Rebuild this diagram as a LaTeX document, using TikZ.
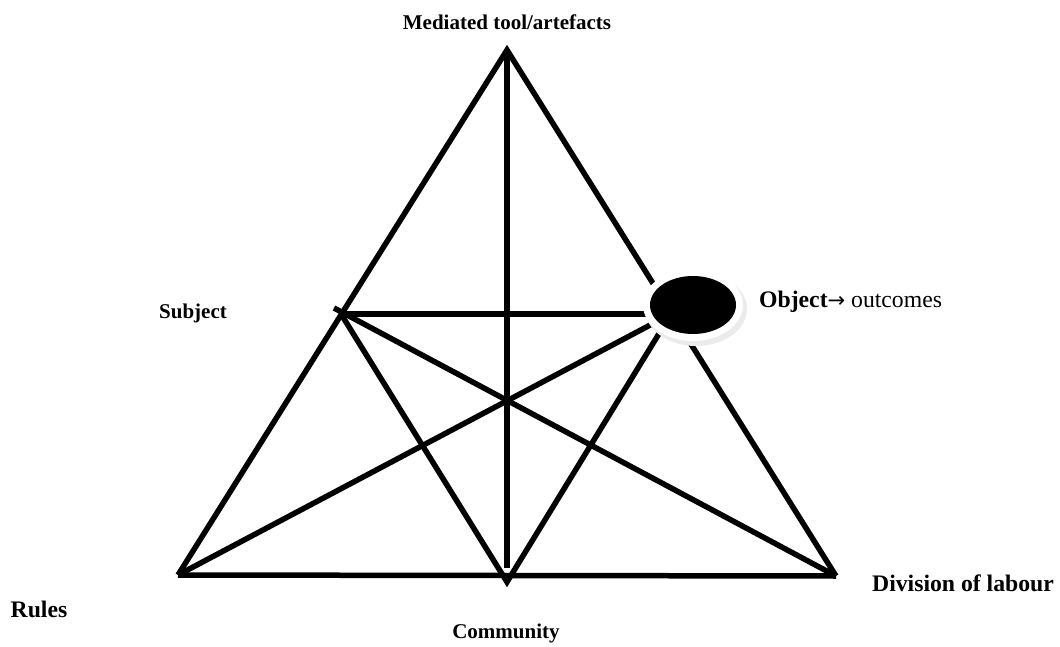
\documentclass[tikz,border=0pt]{standalone}
\usepackage{fontspec}
\setmainfont{Liberation Serif}
\newfontfamily\arrowfont{DejaVu Sans}
\begin{document}
\begin{tikzpicture}[x=1pt,y=-1pt,
  edge/.style={line width=5.5pt,black},
  lbl/.style={font=\fontsize{21}{25}\selectfont\bfseries,inner sep=0pt},
  biglbl/.style={font=\fontsize{23.7}{27}\selectfont\bfseries,inner sep=0pt}]
\useasboundingbox (0,0) rectangle (1060,647);
% vertices of the activity system
\coordinate (A)  at (507,50);
\coordinate (BL) at (178,575);
\coordinate (BR) at (836,576);
\coordinate (BM) at (507,582);
\coordinate (LM) at (341,314);
\coordinate (RM) at (671,314);
\coordinate (VT) at (507,568);
\coordinate (LS) at (334,308);
% outer triangle
\draw[edge] (BL) -- (A) -- (BR);
\draw[edge] (BL) -- (BR);
% vertical axis
\draw[edge] (A) -- (VT);
% inner lines
\draw[edge] (LM) -- (RM);
\draw[edge] (LM) -- (BM) -- (RM);
\draw[edge] (LS) -- (BR);
\draw[edge] (RM) -- (BL);
% object marker
\fill[black!8] (696,309) ellipse [x radius=51,y radius=37];
\fill[white] (693,305) ellipse [x radius=50,y radius=36];
\fill[black] (693,305) ellipse [x radius=43,y radius=29];
% labels
\node[lbl] (tool) at (507,22) {Mediated tool/artefacts};
\node[lbl] (subj) at (193,313) {Subject};
\node[biglbl,anchor=west] (obj) at (759,302) {Object{\mdseries\arrowfont\fontsize{21}{24}\selectfont→}\mdseries\ outcomes};
\node[biglbl] (rules) at (39,609) {Rules};
\node[lbl] (comm) at (506,633) {Community};
\node[biglbl] (div) at (963,583) {Division of labour};
\end{tikzpicture}
\end{document}
